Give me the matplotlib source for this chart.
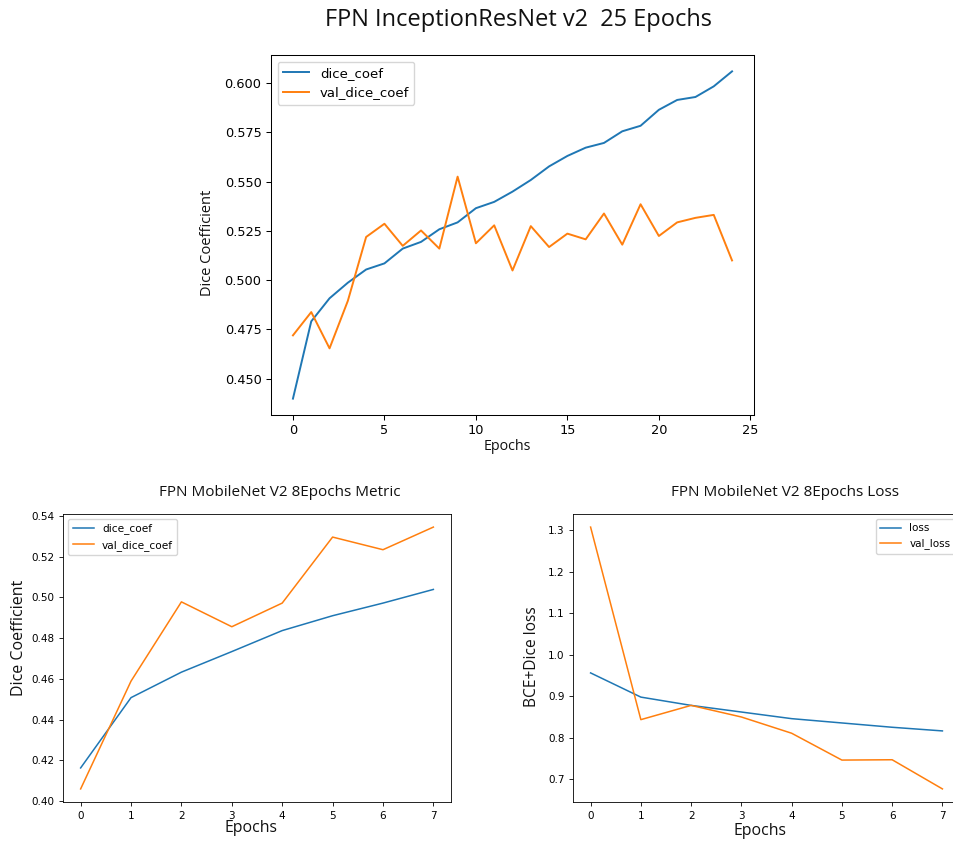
import numpy as np
import matplotlib
matplotlib.use('Agg')
import matplotlib.pyplot as plt

# storia del training: FPN InceptionResNet v2, 25 epoche
epoche_25 = np.arange(25)
dice_25 = [0.4399, 0.4791, 0.4908, 0.4987, 0.5054, 0.5085, 0.5160, 0.5194, 0.5258, 0.5293,
           0.5365, 0.5397, 0.5449, 0.5508, 0.5577, 0.5630, 0.5672, 0.5696, 0.5755, 0.5783,
           0.5864, 0.5914, 0.5929, 0.5983, 0.6059]
val_dice_25 = [0.4720, 0.4838, 0.4654, 0.4895, 0.5219, 0.5286, 0.5174, 0.5252, 0.5160, 0.5525,
               0.5187, 0.5278, 0.5049, 0.5274, 0.5168, 0.5236, 0.5207, 0.5338, 0.5180, 0.5385,
               0.5224, 0.5293, 0.5316, 0.5331, 0.5100]

# FPN MobileNet V2, 8 epoche
epoche_8 = np.arange(8)
dice_8 = [0.4163, 0.4508, 0.4633, 0.4734, 0.4837, 0.4910, 0.4972, 0.5039]
val_dice_8 = [0.4060, 0.4589, 0.4978, 0.4856, 0.4972, 0.5296, 0.5234, 0.5345]
loss_8 = [0.956, 0.8976, 0.8776, 0.8616, 0.8456, 0.8352, 0.8248, 0.816]
val_loss_8 = [1.308, 0.8432, 0.8776, 0.8496, 0.8104, 0.7456, 0.7464, 0.676]

W, H = 954, 842
font_testo = 'Open Sans'


def box(l, t, r, b):
    # rettangolo in pixel -> coordinate figura
    return [l / W, 1 - b / H, (r - l) / W, (b - t) / H]


def testo(x, y, s, size, rot=0):
    fig.text(x / W, 1 - y / H, s, ha='center', va='center', fontsize=size,
             family=font_testo, rotation=rot, color='#111111')


def stile(ax, tick_size, scala):
    ax.tick_params(labelsize=tick_size, length=3.5 * scala, width=0.8 * scala)
    for sp in ax.spines.values():
        sp.set_linewidth(0.8 * scala)


fig = plt.figure(figsize=(W / 100, H / 100), dpi=100)

# grafico grande in alto
ax1 = fig.add_axes(box(271, 55, 754, 415))
ax1.plot(epoche_25, dice_25, color='#1f77b4', lw=1.4, label='dice_coef')
ax1.plot(epoche_25, val_dice_25, color='#ff7f0e', lw=1.4, label='val_dice_coef')
ax1.legend(loc='upper left', fontsize=9.5)
stile(ax1, 9.3, 0.93)
testo(519, 20, 'FPN InceptionResNet v2  25 Epochs', 17)
testo(208, 243, 'Dice Coefficient', 10.5, 90)
testo(507, 447, 'Epochs', 10.3)

# metrica MobileNet
ax2 = fig.add_axes(box(63, 514, 451, 802))
ax2.plot(epoche_8, dice_8, color='#1f77b4', lw=1.1, label='dice_coef')
ax2.plot(epoche_8, val_dice_8, color='#ff7f0e', lw=1.1, label='val_dice_coef')
ax2.legend(loc='upper left', fontsize=7.6)
stile(ax2, 7.5, 0.75)
testo(280, 493, 'FPN MobileNet V2 8Epochs Metric', 11)
testo(19, 638, 'Dice Coefficient', 11.5, 90)
testo(251, 828, 'Epochs', 11.4)

# loss MobileNet
ax3 = fig.add_axes(box(573, 514, 960, 802))
ax3.plot(epoche_8, loss_8, color='#1f77b4', lw=1.1, label='loss')
ax3.plot(epoche_8, val_loss_8, color='#ff7f0e', lw=1.1, label='val_loss')
ax3.legend(loc='upper right', fontsize=7.5)
stile(ax3, 7.5, 0.75)
testo(785, 493, 'FPN MobileNet V2 8Epochs Loss', 11)
testo(532, 657, 'BCE+Dice loss', 11.2, 90)
testo(760, 831, 'Epochs', 11.4)

fig.savefig('out.png', dpi=100)
